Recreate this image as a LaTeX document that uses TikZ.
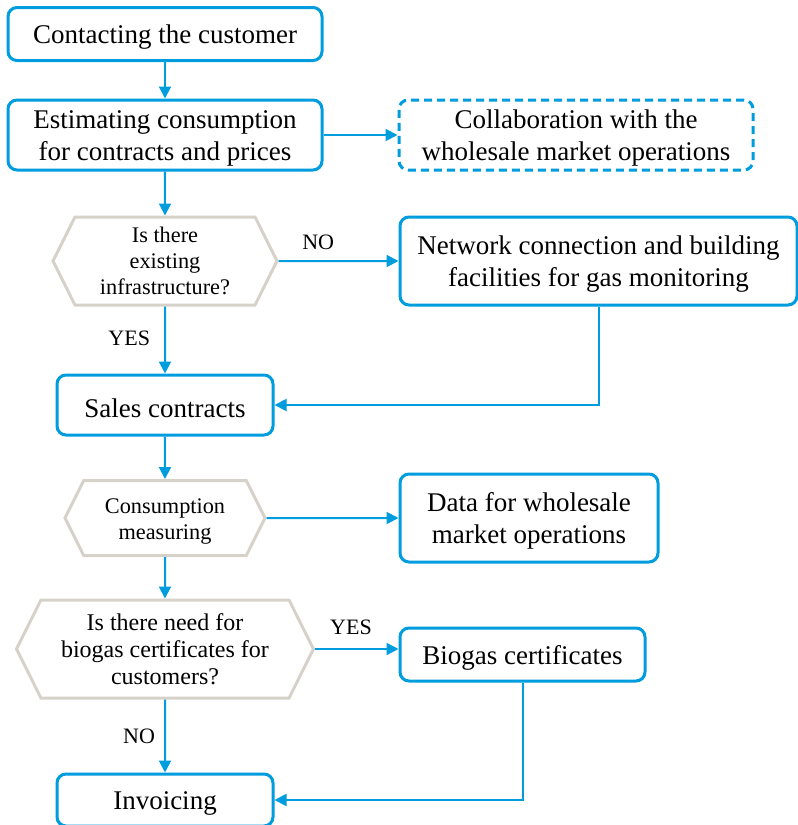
\documentclass[tikz,border=0pt]{standalone}
\usepackage{fontspec}
\setmainfont{Liberation Serif}
\usepackage{tikz}
\usetikzlibrary{shapes}
\usetikzlibrary{arrows.meta}
\definecolor{flowblue}{RGB}{0,157,222}
\definecolor{hexgray}{RGB}{214,210,201}
\newcommand\lift[1]{\rule{0pt}{#1}}

\begin{document}
\begin{tikzpicture}[x=1pt, y=-1pt,
  box/.style={draw=flowblue, line width=3pt, rounded corners=9pt, align=center, inner sep=0pt, font=\fontsize{27}{32}\selectfont},
  hexa/.style={signal, signal to=west and east, signal pointer angle=127, draw=hexgray, line width=3pt, align=center, inner sep=0pt},
  flow/.style={draw=flowblue, line width=2pt, -{Triangle[length=12pt,width=12pt]}},
  answer/.style={inner sep=0pt, font=\fontsize{22}{24}\selectfont}]
\useasboundingbox (0,0) rectangle (798,825);
\node [box, minimum width=314, minimum height=53] (contact) at (165,34) {\lift{25pt}Contacting the customer};
\node [box, minimum width=314, minimum height=70] (estim) at (165,135) {\lift{25pt}Estimating consumption\\for contracts and prices};
\node [box, dash pattern=on 8pt off 5pt, minimum width=354, minimum height=70] (collab) at (576,135) {\lift{25pt}Collaboration with the\\wholesale market operations};
\node [hexa, minimum width=224, minimum height=88, font=\fontsize{22.3}{26}\selectfont] (q1) at (165,261) {Is there\\existing\\infrastructure?};
\node [box, minimum width=397, minimum height=88] (network) at (598.5,261) {\lift{25pt}Network connection and building\\facilities for gas monitoring};
\node [box, minimum width=216, minimum height=60] (sales) at (165,405) {\lift{25pt}Sales contracts};
\node [hexa, minimum width=200, minimum height=75, font=\fontsize{22.3}{26}\selectfont] (q2) at (165,518) {\lift{21pt}Consumption\\measuring};
\node [box, minimum width=258, minimum height=88] (data) at (529,518) {\lift{25pt}Data for wholesale\\market operations};
\node [hexa, minimum width=297, minimum height=98, font=\fontsize{24}{27}\selectfont] (q3) at (165,649) {Is there need for\\biogas certificates for\\customers?};
\node [box, minimum width=245, minimum height=53] (bio) at (522.5,654.5) {\lift{25pt}Biogas certificates};
\node [box, minimum width=216, minimum height=52] (invoice) at (165,800) {\lift{25pt}Invoicing};
% connectors
\draw [flow] (contact) -- (estim);
\draw [flow] (estim) -- (collab);
\draw [flow] (estim) -- (q1);
\draw [flow] (q1) -- (network) node [answer, pos=.33, above=10.7pt] {NO};
\draw [flow] (q1) -- (sales) node [answer, pos=.47, left=14pt] {YES};
\draw [flow] (network.south) |- (sales.east);
\draw [flow] (sales) -- (q2);
\draw [flow] (q2) -- (data);
\draw [flow] (q2) -- (q3);
\draw [flow] (q3.east) -- (q3.east -| bio.west) node [answer, pos=.43, above=13pt] {YES};
\draw [flow] (q3) -- (invoice) node [answer, pos=.5, left=9pt] {NO};
\draw [flow] (bio.south) |- (invoice.east);
\end{tikzpicture}
\end{document}
